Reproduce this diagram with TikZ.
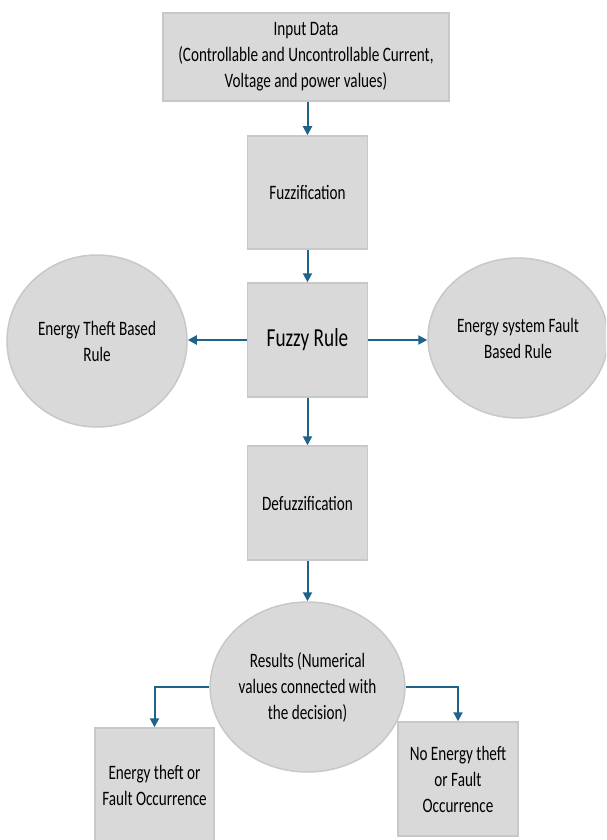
\documentclass[tikz,border=0pt]{standalone}
\usepackage{fontspec}
\setmainfont{Carlito}[FakeStretch=0.74]
\usetikzlibrary{shapes.geometric,arrows.meta}
\definecolor{boxfill}{RGB}{217,217,217}
\definecolor{boxline}{RGB}{200,200,200}
\definecolor{arrowc}{RGB}{31,98,138}
\tikzset{
  procbox/.style={rectangle,draw=boxline,fill=boxfill,line width=1.5pt,inner sep=0pt,align=center,font=\fontsize{20.5}{26}\selectfont},
  roundnode/.style={ellipse,draw=boxline,fill=boxfill,line width=1.5pt,inner sep=0pt,align=center,font=\fontsize{20.5}{26}\selectfont},
  flow/.style={draw=arrowc,line width=2pt,-{Triangle[width=9pt,length=9pt]}}
}
\begin{document}
\begin{tikzpicture}[x=1pt,y=-1pt]
\clip (0,0) rectangle (606,840);
\fill[white] (0,0) rectangle (606,840);
\node[procbox,minimum width=286pt,minimum height=88pt] (input) at (306,57) {Input Data\\(Controllable and Uncontrollable Current,\\Voltage and power values)};
\node[procbox,minimum width=120pt,minimum height=113pt] (fuzz) at (307.5,192.5) {Fuzzification};
\node[procbox,minimum width=120pt,minimum height=114pt,font=\fontsize{26}{30}\selectfont] (rule) at (307.5,340) {Fuzzy Rule};
\node[roundnode,minimum width=180pt,minimum height=172pt] (theft) at (97,341) {Energy Theft Based\\Rule};
\node[roundnode,minimum width=180pt,minimum height=160pt] (fault) at (518,338) {Energy system Fault\\Based Rule};
\node[procbox,minimum width=120pt,minimum height=114pt] (defuzz) at (307.5,503) {Defuzzification};
\node[roundnode,minimum width=179pt,minimum height=170pt] (results) at (307.5,687) {Results (Numerical\\values connected with\\the decision)};
\node[procbox,minimum width=119pt,minimum height=115pt] (yes) at (154.5,785.5) {Energy theft or\\Fault Occurrence};
\node[procbox,minimum width=120pt,minimum height=114pt] (no) at (458,779) {No Energy theft\\or Fault\\Occurrence};
\draw[flow] (fuzz.north |- input.south) -- (fuzz.north);
\draw[flow] (fuzz.south) -- (rule.north);
\draw[flow] (rule.west) -- (rule.west -| theft.east);
\draw[flow] (rule.east) -- (rule.east -| fault.west);
\draw[flow] (rule.south) -- (defuzz.north);
\draw[flow] (defuzz.south) -- (results.north);
\draw[flow] (results.west) -| (yes.north);
\draw[flow] (results.east) -| (no.north);
\end{tikzpicture}
\end{document}
